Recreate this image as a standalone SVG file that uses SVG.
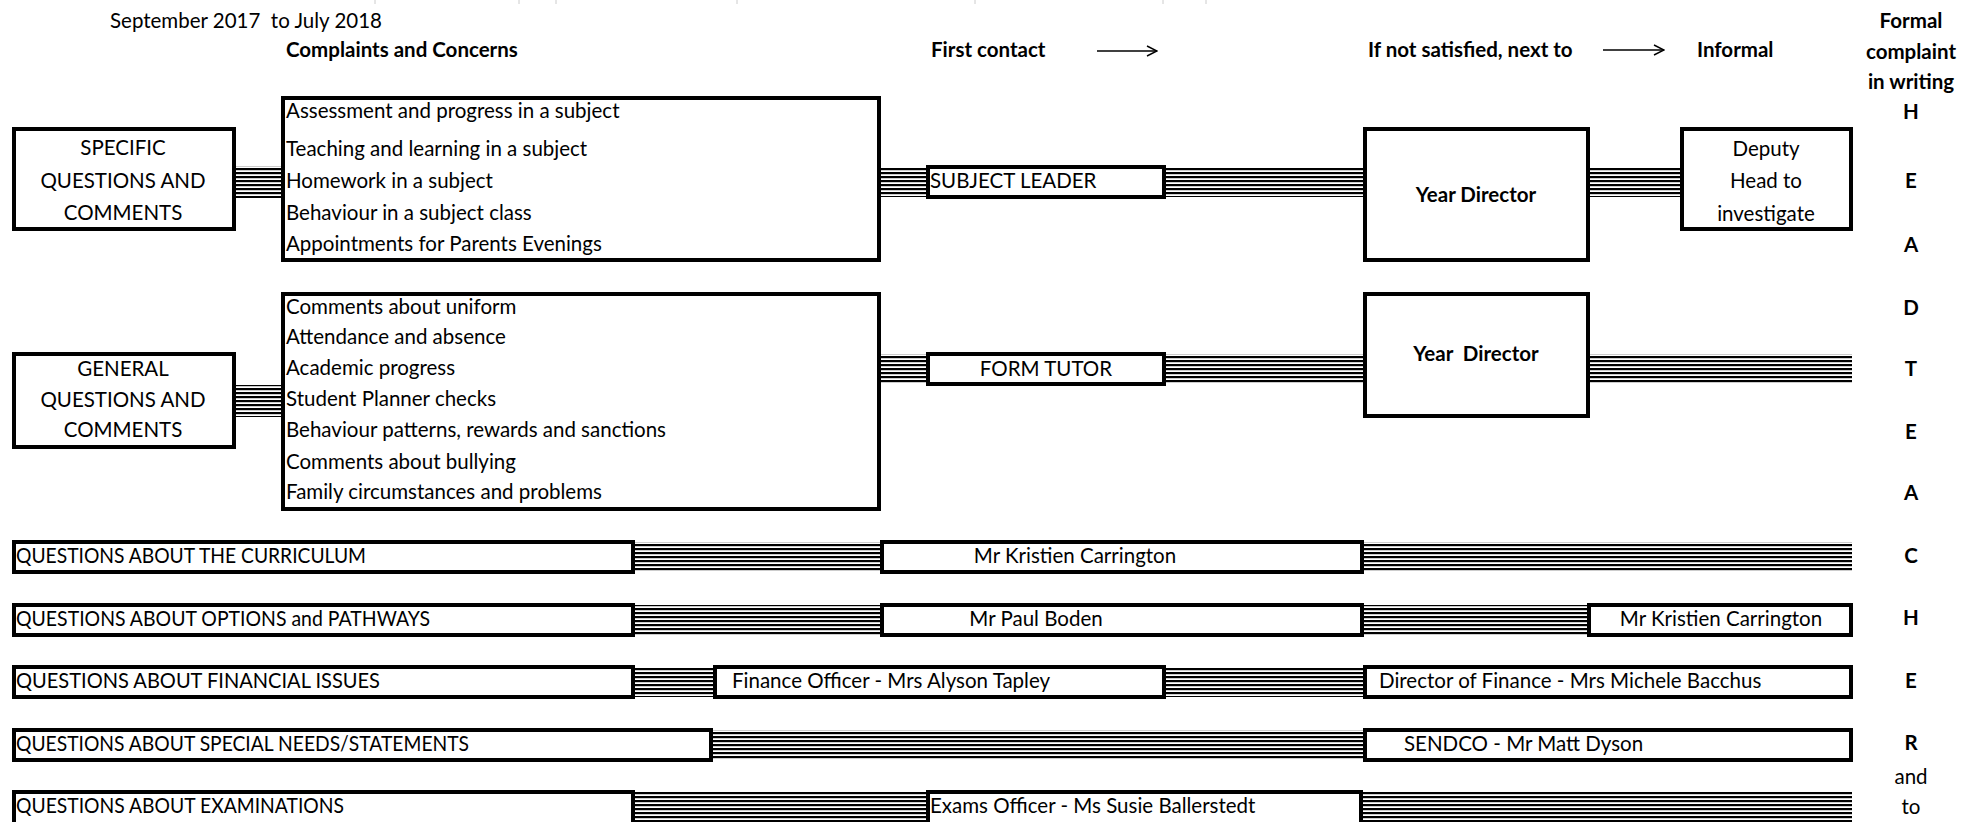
<svg xmlns="http://www.w3.org/2000/svg" width="1962" height="822" viewBox="0 0 1962 822">
<defs>
<pattern id="stripes" patternUnits="userSpaceOnUse" width="8" height="4">
<rect x="0" y="0" width="8" height="2.2" fill="#000"/>
</pattern>
<marker id="arr" viewBox="0 0 12 12" refX="11" refY="6" markerWidth="12" markerHeight="12" markerUnits="userSpaceOnUse" orient="auto">
<path d="M1,1 L11,6 L1,11" fill="none" stroke="#000" stroke-width="1.4"/>
</marker>
</defs>
<style>
text{font-family:Lato,"Liberation Sans",sans-serif;font-size:20.5px;fill:#000;white-space:pre}
.b{font-weight:bold}
.c{text-anchor:middle}
.box{fill:#fff;stroke:#000;stroke-width:4}
.hatch{fill:url(#stripes)}
.tick{stroke:#ccc;stroke-width:1}
</style>
<rect width="1962" height="822" fill="#fff"/>

<g id="ticks">
<line class="tick" x1="375" y1="0" x2="375" y2="4"/>
<line class="tick" x1="519" y1="0" x2="519" y2="4"/>
<line class="tick" x1="556" y1="0" x2="556" y2="4"/>
<line class="tick" x1="737" y1="0" x2="737" y2="4"/>
<line class="tick" x1="975" y1="0" x2="975" y2="4"/>
<line class="tick" x1="1163" y1="0" x2="1163" y2="4"/>
<line class="tick" x1="1206" y1="0" x2="1206" y2="4"/>
</g>

<g id="headers">
<text x="110" y="28">September 2017  to July 2018</text>
<text class="b" x="286" y="57">Complaints and Concerns</text>
<text class="b" x="931" y="57">First contact</text>
<text class="b" x="1368" y="57">If not satisfied, next to</text>
<text class="b" x="1697" y="57">Informal</text>
<line x1="1097" y1="51" x2="1157" y2="51" stroke="#000" stroke-width="1.4" marker-end="url(#arr)"/>
<line x1="1603" y1="50" x2="1664" y2="50" stroke="#000" stroke-width="1.4" marker-end="url(#arr)"/>
</g>

<g id="formal-column">
<text class="b c" x="1911" y="28">Formal</text>
<text class="b c" x="1911" y="59">complaint</text>
<text class="b c" x="1911" y="89">in writing</text>
<text class="b c" x="1911" y="119">H</text>
<text class="b c" x="1911" y="188">E</text>
<text class="b c" x="1911" y="252">A</text>
<text class="b c" x="1911" y="315">D</text>
<text class="b c" x="1911" y="376">T</text>
<text class="b c" x="1911" y="439">E</text>
<text class="b c" x="1911" y="500">A</text>
<text class="b c" x="1911" y="563">C</text>
<text class="b c" x="1911" y="625">H</text>
<text class="b c" x="1911" y="688">E</text>
<text class="b c" x="1911" y="750">R</text>
<text class="c" x="1911" y="784">and</text>
<text class="c" x="1911" y="814">to</text>
</g>

<g id="connectors">
<rect class="hatch" x="236" y="166" width="45" height="32"/>
<rect class="hatch" x="881" y="167" width="45" height="30"/>
<rect class="hatch" x="1166" y="167" width="197" height="30"/>
<rect class="hatch" x="1590" y="167" width="90" height="30"/>
<rect class="hatch" x="236" y="385" width="45" height="32"/>
<rect class="hatch" x="881" y="354" width="45" height="30"/>
<rect class="hatch" x="1166" y="354" width="197" height="30"/>
<rect class="hatch" x="1590" y="354" width="262" height="30"/>
<rect class="hatch" x="635" y="542" width="245" height="30"/>
<rect class="hatch" x="1364" y="542" width="488" height="30"/>
<rect class="hatch" x="635" y="605" width="245" height="30"/>
<rect class="hatch" x="1364" y="605" width="223" height="30"/>
<rect class="hatch" x="635" y="667" width="78" height="30"/>
<rect class="hatch" x="1166" y="667" width="197" height="30"/>
<rect class="hatch" x="713" y="730" width="650" height="30"/>
<rect class="hatch" x="635" y="792" width="291" height="30"/>
<rect class="hatch" x="1363" y="792" width="489" height="30"/>
</g>

<g id="specific">
<rect class="box" x="14" y="129" width="220" height="100"/>
<text class="c" x="123" y="155">SPECIFIC</text>
<text class="c" x="123" y="188">QUESTIONS AND</text>
<text class="c" x="123" y="220">COMMENTS</text>
</g>
<g id="complaints-specific">
<rect class="box" x="283" y="98" width="596" height="162"/>
<text x="286" y="118">Assessment and progress in a subject</text>
<text x="286" y="156">Teaching and learning in a subject</text>
<text x="286" y="188">Homework in a subject</text>
<text x="286" y="220">Behaviour in a subject class</text>
<text x="286" y="251">Appointments for Parents Evenings</text>
</g>
<g id="subject-leader">
<rect class="box" x="928" y="167" width="236" height="30"/>
<text x="930" y="188">SUBJECT LEADER</text>
</g>
<g id="year-director-1">
<rect class="box" x="1365" y="129" width="223" height="131"/>
<text class="b c" x="1476" y="202">Year Director</text>
</g>
<g id="deputy">
<rect class="box" x="1682" y="129" width="169" height="100"/>
<text class="c" x="1766" y="156">Deputy</text>
<text class="c" x="1766" y="188">Head to</text>
<text class="c" x="1766" y="221">investigate</text>
</g>

<g id="general">
<rect class="box" x="14" y="354" width="220" height="93"/>
<text class="c" x="123" y="376">GENERAL</text>
<text class="c" x="123" y="407">QUESTIONS AND</text>
<text class="c" x="123" y="437">COMMENTS</text>
</g>
<g id="complaints-general">
<rect class="box" x="283" y="294" width="596" height="215"/>
<text x="286" y="314">Comments about uniform</text>
<text x="286" y="344">Attendance and absence</text>
<text x="286" y="375">Academic progress</text>
<text x="286" y="406">Student Planner checks</text>
<text x="286" y="437">Behaviour patterns, rewards and sanctions</text>
<text x="286" y="469">Comments about bullying</text>
<text x="286" y="499">Family circumstances and problems</text>
</g>
<g id="form-tutor">
<rect class="box" x="928" y="354" width="236" height="30"/>
<text class="c" x="1046" y="376">FORM TUTOR</text>
</g>
<g id="year-director-2">
<rect class="box" x="1365" y="294" width="223" height="122"/>
<text class="b c" x="1476" y="361">Year  Director</text>
</g>

<g id="curriculum">
<rect class="box" x="14" y="542" width="619" height="30"/>
<text x="16" y="563" textLength="350" lengthAdjust="spacingAndGlyphs">QUESTIONS ABOUT THE CURRICULUM</text>
</g>
<g id="carrington-1">
<rect class="box" x="882" y="542" width="480" height="30"/>
<text class="c" x="1075" y="563">Mr Kristien Carrington</text>
</g>

<g id="options">
<rect class="box" x="14" y="605" width="619" height="30"/>
<text x="16" y="626" textLength="414" lengthAdjust="spacingAndGlyphs">QUESTIONS ABOUT OPTIONS and PATHWAYS</text>
</g>
<g id="boden">
<rect class="box" x="882" y="605" width="480" height="30"/>
<text class="c" x="1036" y="626">Mr Paul Boden</text>
</g>
<g id="carrington-2">
<rect class="box" x="1589" y="605" width="262" height="30"/>
<text class="c" x="1721" y="626">Mr Kristien Carrington</text>
</g>

<g id="financial">
<rect class="box" x="14" y="667" width="619" height="30"/>
<text x="16" y="688" textLength="364" lengthAdjust="spacingAndGlyphs">QUESTIONS ABOUT FINANCIAL ISSUES</text>
</g>
<g id="finance-officer">
<rect class="box" x="715" y="667" width="449" height="30"/>
<text x="732" y="688">Finance Officer - Mrs Alyson Tapley</text>
</g>
<g id="director-finance">
<rect class="box" x="1365" y="667" width="486" height="30"/>
<text x="1379" y="688">Director of Finance - Mrs Michele Bacchus</text>
</g>

<g id="special-needs">
<rect class="box" x="14" y="730" width="697" height="30"/>
<text x="16" y="751" textLength="453" lengthAdjust="spacingAndGlyphs">QUESTIONS ABOUT SPECIAL NEEDS/STATEMENTS</text>
</g>
<g id="sendco">
<rect class="box" x="1365" y="730" width="486" height="30"/>
<text x="1404" y="751">SENDCO - Mr Matt Dyson</text>
</g>

<g id="examinations">
<rect class="box" x="14" y="792" width="619" height="34"/>
<text x="16" y="813" textLength="328" lengthAdjust="spacingAndGlyphs">QUESTIONS ABOUT EXAMINATIONS</text>
</g>
<g id="exams-officer">
<rect class="box" x="928" y="792" width="433" height="34"/>
<text x="930" y="813">Exams Officer - Ms Susie Ballerstedt</text>
</g>
</svg>
